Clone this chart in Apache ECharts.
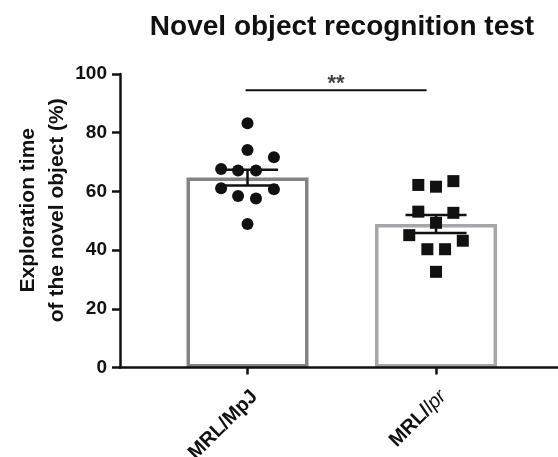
<!DOCTYPE html>
<html>
<head>
<meta charset="utf-8">
<script src="https://cdn.jsdelivr.net/npm/echarts@6/dist/echarts.min.js"></script>
<style>
  html, body { margin: 0; padding: 0; background: #fff; }
  #main { width: 558px; height: 457px; }
</style>
</head>
<body>
<div id="main"></div>
<script>
// groups, bar means and SEM
var groups = ['MRL/MpJ', 'MRL/lpr']
var groupPos = [1, 2]
var means = [64.7, 48.9]
var sems = [2.7, 3.1]
var barColors = ['#878282', '#a6a6aa']

// individual animals (value) and their horizontal spread inside the column
var mpjValues = [83.2, 74.1, 71.6, 67.6, 67.1, 67.1, 61.1, 60.7, 58.4, 57.6, 48.9]
var mpjJitter = [0, 0, 0.14, -0.14, -0.05, 0.045, -0.14, 0.14, -0.05, 0.045, 0]
var lprValues = [62.2, 61.6, 63.5, 53.1, 52.7, 49.3, 45.1, 43.2, 40.3, 40.3, 32.6]
var lprJitter = [-0.094, 0, 0.092, -0.094, 0.092, 0, -0.142, 0.142, -0.046, 0.048, 0]

var yTicks = [0, 20, 40, 60, 80, 100]
var sigLine = [[0.99, 94.5], [1.95, 94.5]]
var sigLabel = [[1.47, 96.5]]

var chart = echarts.init(document.getElementById('main'))

function pts(vals, jit, x) {
  return vals.map(function (v, i) { return [x + jit[i], v] })
}

var FONT = 'Liberation Sans, Arial, sans-serif'

option = {
  animation: false,
  backgroundColor: '#fff',
  title: {
    text: 'Novel object recognition test',
    left: 337,
    top: 8,
    textAlign: 'center',
    textStyle: { color: '#111', fontFamily: FONT, fontWeight: 'bold', fontSize: 28 }
  },
  grid: { left: 120, right: 0, top: 74, bottom: 89.5, containLabel: false, outerBoundsMode: 'none' },
  xAxis: {
    type: 'value',
    min: 0.3236,
    max: 2.647,
    z: 10,
    splitLine: { show: false },
    axisLine: { show: true, lineStyle: { color: '#111', width: 2.5 } },
    axisTick: { show: true, length: 7, customValues: groupPos, lineStyle: { color: '#111', width: 2.5 } },
    axisLabel: {
      customValues: groupPos,
      rotate: 45,
      margin: 19,
      verticalAlign: 'top',
      formatter: function (v) {
        return v === 2 ? '{b|MRL/}{i|lpr}' : '{b|' + groups[0] + '}'
      },
      rich: {
        b: { color: '#111', fontFamily: FONT, fontWeight: 'bold', fontSize: 20 },
        i: { color: '#111', fontFamily: FONT, fontStyle: 'italic', fontSize: 20 }
      }
    }
  },
  yAxis: {
    type: 'value',
    min: 0,
    max: 100,
    interval: 20,
    z: 10,
    name: 'Exploration time\nof the novel object (%)',
    nameLocation: 'middle',
    nameGap: 48,
    nameMoveOverlap: false,
    nameTextStyle: {
      color: '#111', fontFamily: FONT, fontWeight: 'bold',
      fontSize: 21, lineHeight: 29, padding: [0, 0, 0, 21]
    },
    splitLine: { show: false },
    axisLine: { show: true, lineStyle: { color: '#111', width: 2.5 } },
    axisTick: { show: true, length: 8, lineStyle: { color: '#111', width: 2.5 } },
    axisLabel: { color: '#111', fontFamily: FONT, fontWeight: 'bold', fontSize: 19, margin: 13 }
  },
  series: [
    {
      type: 'bar',
      barWidth: 122,
      data: groupPos.map(function (x, i) {
        return { value: [x, means[i]], itemStyle: { color: '#fff', borderColor: barColors[i], borderWidth: 3.5 } }
      }),
      z: 2
    },
    {
      type: 'scatter',
      symbol: 'circle',
      symbolSize: 12,
      itemStyle: { color: '#111', opacity: 1 },
      data: pts(mpjValues, mpjJitter, 1),
      z: 3
    },
    {
      type: 'scatter',
      symbol: 'rect',
      symbolSize: 12,
      itemStyle: { color: '#111', opacity: 1 },
      data: pts(lprValues, lprJitter, 2),
      z: 3
    },
    {
      // SEM error bars
      type: 'custom',
      z: 4,
      data: groupPos.map(function (x, i) { return [x, means[i] - sems[i], means[i] + sems[i]] }),
      renderItem: function (params, api) {
        var x = api.value(0)
        var lo = api.coord([x, api.value(1)])
        var hi = api.coord([x, api.value(2)])
        var half = api.size([0.162, 0])[0]
        var st = { stroke: '#111', lineWidth: 2.5 }
        return {
          type: 'group',
          children: [
            { type: 'line', shape: { x1: lo[0], y1: lo[1], x2: hi[0], y2: hi[1] }, style: st },
            { type: 'line', shape: { x1: hi[0] - half, y1: hi[1], x2: hi[0] + half, y2: hi[1] }, style: st },
            { type: 'line', shape: { x1: lo[0] - half, y1: lo[1], x2: lo[0] + half, y2: lo[1] }, style: st }
          ]
        }
      }
    },
    {
      type: 'line',
      data: sigLine,
      symbol: 'none',
      lineStyle: { color: '#111', width: 2 },
      z: 4
    },
    {
      type: 'scatter',
      data: sigLabel,
      symbolSize: 0,
      label: { show: true, position: 'inside', formatter: '**', fontSize: 22, fontWeight: 'bold', color: '#111', fontFamily: FONT },
      z: 4
    }
  ]
}
chart.setOption(option)
</script>
</body>
</html>
